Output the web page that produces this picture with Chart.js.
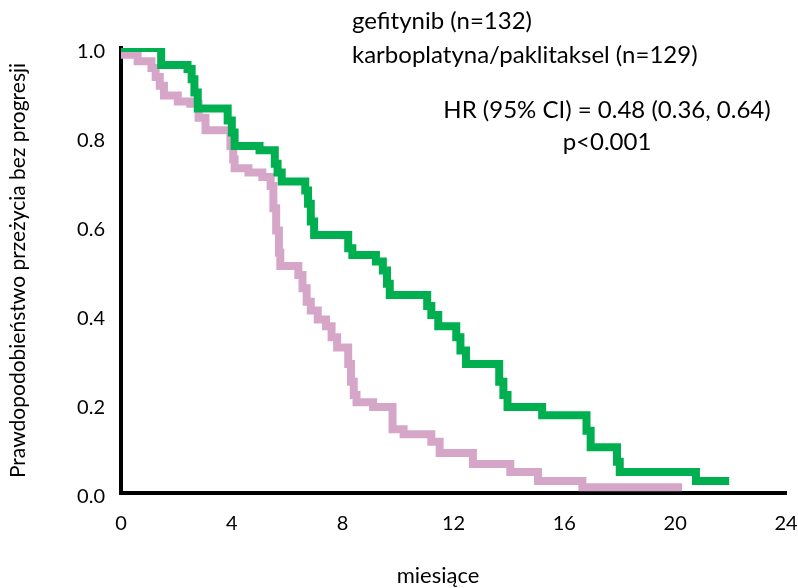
<!DOCTYPE html>
<html>
<head>
<meta charset="utf-8">
<script src="https://cdn.jsdelivr.net/npm/chart.js@4"></script>
<style>
  body { margin: 0; background: #fff; }
  #wrap { width: 798px; height: 588px; }
</style>
</head>
<body>
<div id="wrap"><canvas id="km"></canvas></div>
<script>
// Kaplan-Meier curves (months / survival probability)
const gefTime = [0, 1.45, 2.4, 2.55, 2.65, 2.77, 3.85, 4.0, 4.1, 5.0, 5.55, 5.65, 5.8, 6.65, 6.75, 6.85, 6.97, 8.2, 8.35, 9.2, 9.45, 9.6, 9.7, 11.05, 11.2, 11.45, 12.1, 12.25, 12.45, 13.65, 13.8, 13.95, 15.2, 16.8, 16.95, 17.9, 18.0, 20.75, 21.95];
const gefSurv = [1.0, 0.962, 0.953, 0.93, 0.9, 0.864, 0.837, 0.81, 0.78, 0.77, 0.74, 0.72, 0.7, 0.68, 0.65, 0.61, 0.58, 0.55, 0.535, 0.52, 0.5, 0.47, 0.445, 0.42, 0.4, 0.375, 0.35, 0.32, 0.29, 0.25, 0.22, 0.193, 0.175, 0.14, 0.103, 0.07, 0.047, 0.027, 0.027];

const carbTime = [0, 0.6, 1.1, 1.25, 1.4, 1.55, 2.05, 2.5, 2.8, 3.05, 3.95, 4.05, 4.1, 4.6, 5.1, 5.4, 5.5, 5.6, 5.7, 5.75, 6.4, 6.55, 6.7, 6.85, 7.1, 7.4, 7.6, 7.8, 8.2, 8.3, 8.4, 8.5, 9.1, 9.8, 10.2, 11.2, 11.5, 12.7, 14.05, 15.05, 16.65, 20.25];
const carbSurv = [0.985, 0.97, 0.955, 0.935, 0.915, 0.893, 0.88, 0.875, 0.843, 0.815, 0.78, 0.75, 0.73, 0.72, 0.71, 0.69, 0.64, 0.59, 0.54, 0.51, 0.49, 0.46, 0.43, 0.41, 0.39, 0.375, 0.35, 0.327, 0.29, 0.25, 0.22, 0.204, 0.193, 0.143, 0.132, 0.115, 0.09, 0.065, 0.047, 0.027, 0.013, 0.013];

const xTicks = [0, 4, 8, 12, 16, 20, 24];
const yTicks = [0, 0.2, 0.4, 0.6, 0.8, 1.0];

const notes = [
  { text: 'gefitynib (n=132)', x: 352, y: 21, align: 'left', size: 24 },
  { text: 'karboplatyna/paklitaksel (n=129)', x: 352, y: 55, align: 'left', size: 24 },
  { text: 'HR (95% CI) = 0.48 (0.36, 0.64)', x: 607, y: 110, align: 'center', size: 24 },
  { text: 'p<0.001', x: 607, y: 142, align: 'center', size: 24 },
  { text: 'miesiące', x: 438, y: 576, align: 'center', size: 22 }
];

const FONT = 'Lato, "Open Sans", sans-serif';

function toPoints(t, s) {
  return t.map((v, i) => ({ x: v, y: s[i] }));
}

const notesPlugin = {
  id: 'notes',
  afterDraw(chart) {
    const ctx = chart.ctx;
    ctx.save();
    ctx.fillStyle = '#000';
    ctx.textBaseline = 'middle';
    notes.forEach(n => {
      ctx.font = n.size + 'px ' + FONT;
      ctx.textAlign = n.align;
      ctx.fillText(n.text, n.x, n.y);
    });
    ctx.restore();
  }
};

new Chart(document.getElementById('km'), {
  type: 'line',
  data: {
    datasets: [
      {
        label: 'gefitynib (n=132)',
        data: toPoints(gefTime, gefSurv),
        borderColor: '#00b050',
        borderWidth: 8,
        stepped: true,
        pointRadius: 0,
        fill: false
      },
      {
        label: 'karboplatyna/paklitaksel (n=129)',
        data: toPoints(carbTime, carbSurv),
        borderColor: '#d6a6c9',
        borderWidth: 8,
        stepped: true,
        pointRadius: 0,
        fill: false
      }
    ]
  },
  options: {
    responsive: true,
    maintainAspectRatio: false,
    animation: false,
    layout: { padding: { top: 48, right: 12, left: 0, bottom: 0 } },
    plugins: {
      legend: { display: false },
      tooltip: { enabled: false }
    },
    scales: {
      x: {
        type: 'linear',
        min: 0,
        max: 24,
        z: 1,
        afterFit(scale) {
          scale.height = 95;
          // tick padding would otherwise be added to the side padding
          scale.paddingLeft = 0;
          scale.paddingRight = 0;
        },
        afterBuildTicks(scale) { scale.ticks = xTicks.map(v => ({ value: v })); },
        grid: { display: false, drawTicks: false },
        border: { display: true, color: '#000', width: 4 },
        ticks: { color: '#000', padding: 19, font: { family: FONT, size: 20 } },
        title: { display: false, text: 'miesiące' }
      },
      y: {
        min: 0,
        max: 1,
        z: 1,
        afterFit(scale) { scale.width = 121; },
        afterBuildTicks(scale) { scale.ticks = yTicks.map(v => ({ value: v })); },
        grid: { display: false, drawTicks: false },
        border: { display: true, color: '#000', width: 4 },
        ticks: {
          color: '#000',
          padding: 16,
          labelOffset: 4,
          font: { family: FONT, size: 20 },
          callback: v => v.toFixed(1)
        },
        title: {
          display: true,
          text: 'Prawdopodobieństwo przeżycia bez progresji',
          color: '#000',
          padding: { top: 6, bottom: 0 },
          font: { family: FONT, size: 21 }
        }
      }
    }
  },
  plugins: [notesPlugin]
});
</script>
</body>
</html>
